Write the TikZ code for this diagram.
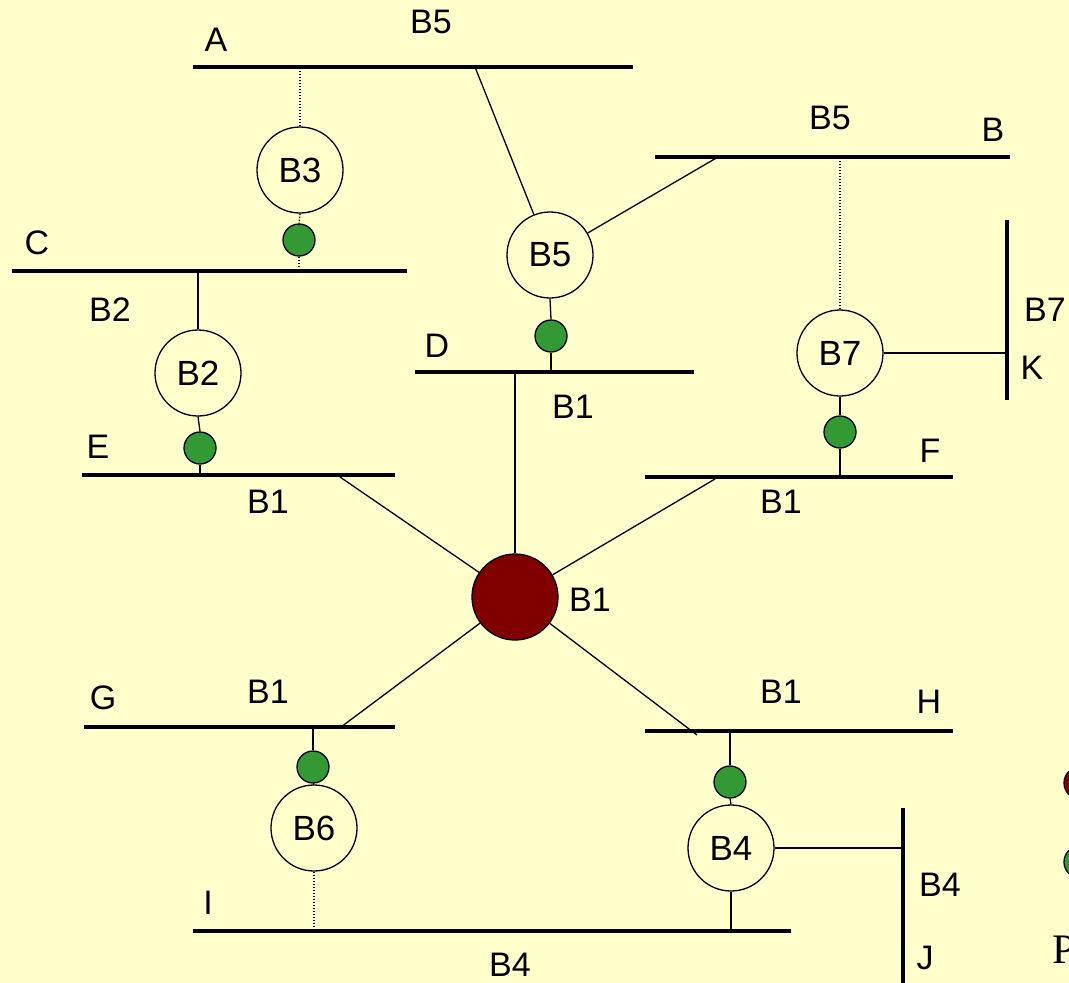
\documentclass[tikz,border=0pt]{standalone}
\usepackage{fontspec}
\setmainfont{Liberation Sans}
\newfontfamily\legendfont{Liberation Serif}
\usepackage{tikz}
\definecolor{paper}{RGB}{255,255,204}
\definecolor{gencolor}{RGB}{128,0,0}
\definecolor{brkcolor}{RGB}{51,153,51}
% horizontal bus: name, x left, x right, y
\newcommand{\hbus}[4]{
\coordinate (#1-w) at (#2,#4);
\coordinate (#1-e) at (#3,#4);
\draw[bus] (#1-w)--(#1-e);
}
% vertical bus: name, y top, y bottom, x
\newcommand{\vbus}[4]{
\coordinate (#1-n) at (#4,#2);
\coordinate (#1-s) at (#4,#3);
\draw[bus] (#1-n)--(#1-s);
}
\tikzset{
  bus/.style={line width=4.5pt},
  wire/.style={line width=1.3pt},
  dotwire/.style={line width=1.3pt,dash pattern=on 1.5pt off 1.5pt},
  relay/.style={circle,draw,fill=paper,line width=1.3pt,minimum size=86pt,inner sep=0pt,font=\fontsize{35}{38}\selectfont},
  brk/.style={circle,draw,fill=brkcolor,line width=1.3pt,minimum size=32pt,inner sep=0pt},
  gen/.style={circle,draw,fill=gencolor,line width=1.3pt,minimum size=86pt,inner sep=0pt},
  lbl/.style={inner sep=0pt,font=\fontsize{34}{36}\selectfont}
}

\begin{document}
\begin{tikzpicture}[x=1pt,y=-1pt]
\fill[paper] (0,0) rectangle (1069,983);
\useasboundingbox (0,0) rectangle (1069,983);

% buses
\hbus{busA}{193}{633}{67}
\hbus{busB}{655}{1010}{157}
\hbus{busC}{12}{407}{271}
\hbus{busD}{415}{694}{372}
\hbus{busE}{82}{395}{475}
\hbus{busF}{645}{953}{477}
\hbus{busG}{84}{395}{727}
\hbus{busH}{645}{953}{731}
\hbus{busI}{193}{791}{931}
\vbus{busK}{220}{400}{1007}
\vbus{busJ}{808}{990}{903}

% taps for the slanted lines
\coordinate (tapA) at (475,67);
\coordinate (tapB) at (718,157);
\coordinate (tapE) at (340,477);
\coordinate (tapF) at (715,479);
\coordinate (tapG) at (341,727);
\coordinate (tapH) at (697,735);

% relays, breakers, source
\node[gen] (src) at (515,597) {};
\node[relay] (r3) at (300,170) {B3};
\node[relay] (r5) at (550,255) {B5};
\node[relay] (r2) at (198,373) {B2};
\node[relay] (r7) at (840,353) {B7};
\node[relay] (r6) at (314,828) {B6};
\node[relay] (r4) at (731,848) {B4};
\node[brk] (b3) at (299,240) {};
\node[brk] (b5) at (551,336) {};
\node[brk] (b2) at (200,448) {};
\node[brk] (b7) at (840,432) {};
\node[brk] (b6) at (313,767) {};
\node[brk] (b4) at (730,782) {};

% connections
\draw[dotwire] (r3.north)--(r3.north |- busA-w);
\draw[dotwire] (r3.south)--(b3.north);
\draw[dotwire] (b3.south)--(b3.south |- busC-w);
\draw[wire] (tapA)--(r5);
\draw[wire] (tapB)--(r5);
\draw[wire] (r5.south)--(b5.north);
\draw[wire] (b5.south)--(b5.south |- busD-w);
\draw[wire] (r2.north)--(r2.north |- busC-w);
\draw[wire] (r2.south)--(b2.north);
\draw[wire] (b2.south)--(b2.south |- busE-w);
\draw[dotwire] (r7.north)--(r7.north |- busB-w);
\draw[wire] (r7.south)--(b7.north);
\draw[wire] (b7.south)--(b7.south |- busF-w);
\draw[wire] (r7.east)--(r7.east -| busK-n);
\draw[wire] (src.north)--(src.north |- busD-w);
\draw[wire] (tapE)--(src);
\draw[wire] (tapF)--(src);
\draw[wire] (tapG)--(src);
\draw[wire] (tapH)--(src);
\draw[wire] (b6.north)--(b6.north |- busG-w);
\draw[wire] (b6.south)--(r6.north);
\draw[dotwire] (r6.south)--(r6.south |- busI-w);
\draw[wire] (b4.north)--(b4.north |- busH-w);
\draw[wire] (b4.south)--(r4.north);
\draw[wire] (r4.south)--(r4.south |- busI-w);
\draw[wire] (r4.east)--(r4.east -| busJ-n);

% bus names
\node[lbl] (nA) at (216,40) {A};
\node[lbl] (nA2) at (431,22) {B5};
\node[lbl] (nB) at (993,130) {B};
\node[lbl] (nB2) at (830,118) {B5};
\node[lbl] (nC) at (37,243) {C};
\node[lbl] (nC2) at (110,310) {B2};
\node[lbl] (nD) at (437,346) {D};
\node[lbl] (nD2) at (573,407) {B1};
\node[lbl] (nE) at (98,447) {E};
\node[lbl] (nE2) at (268,502) {B1};
\node[lbl] (nF) at (930,451) {F};
\node[lbl] (nF2) at (781,502) {B1};
\node[lbl] (nS) at (590,600) {B1};
\node[lbl] (nG) at (103,698) {G};
\node[lbl] (nG2) at (268,692) {B1};
\node[lbl] (nH) at (929,702) {H};
\node[lbl] (nH2) at (781,692) {B1};
\node[lbl] (nI) at (208,903) {I};
\node[lbl] (nI2) at (510,965) {B4};
\node[lbl] (nJ) at (925,958) {J};
\node[lbl] (nJ2) at (940,885) {B4};
\node[lbl] (nK) at (1032,368) {K};
\node[lbl] (nK2) at (1045,310) {B7};

% legend
\node[gen,minimum size=32pt] (legSrc) at (1080,783) {};
\node[brk] (legBrk) at (1080,862) {};
\node[anchor=base west,inner sep=0pt,font=\legendfont\fontsize{42}{44}\selectfont] (legText) at (1052,963) {P};
\end{tikzpicture}
\end{document}
